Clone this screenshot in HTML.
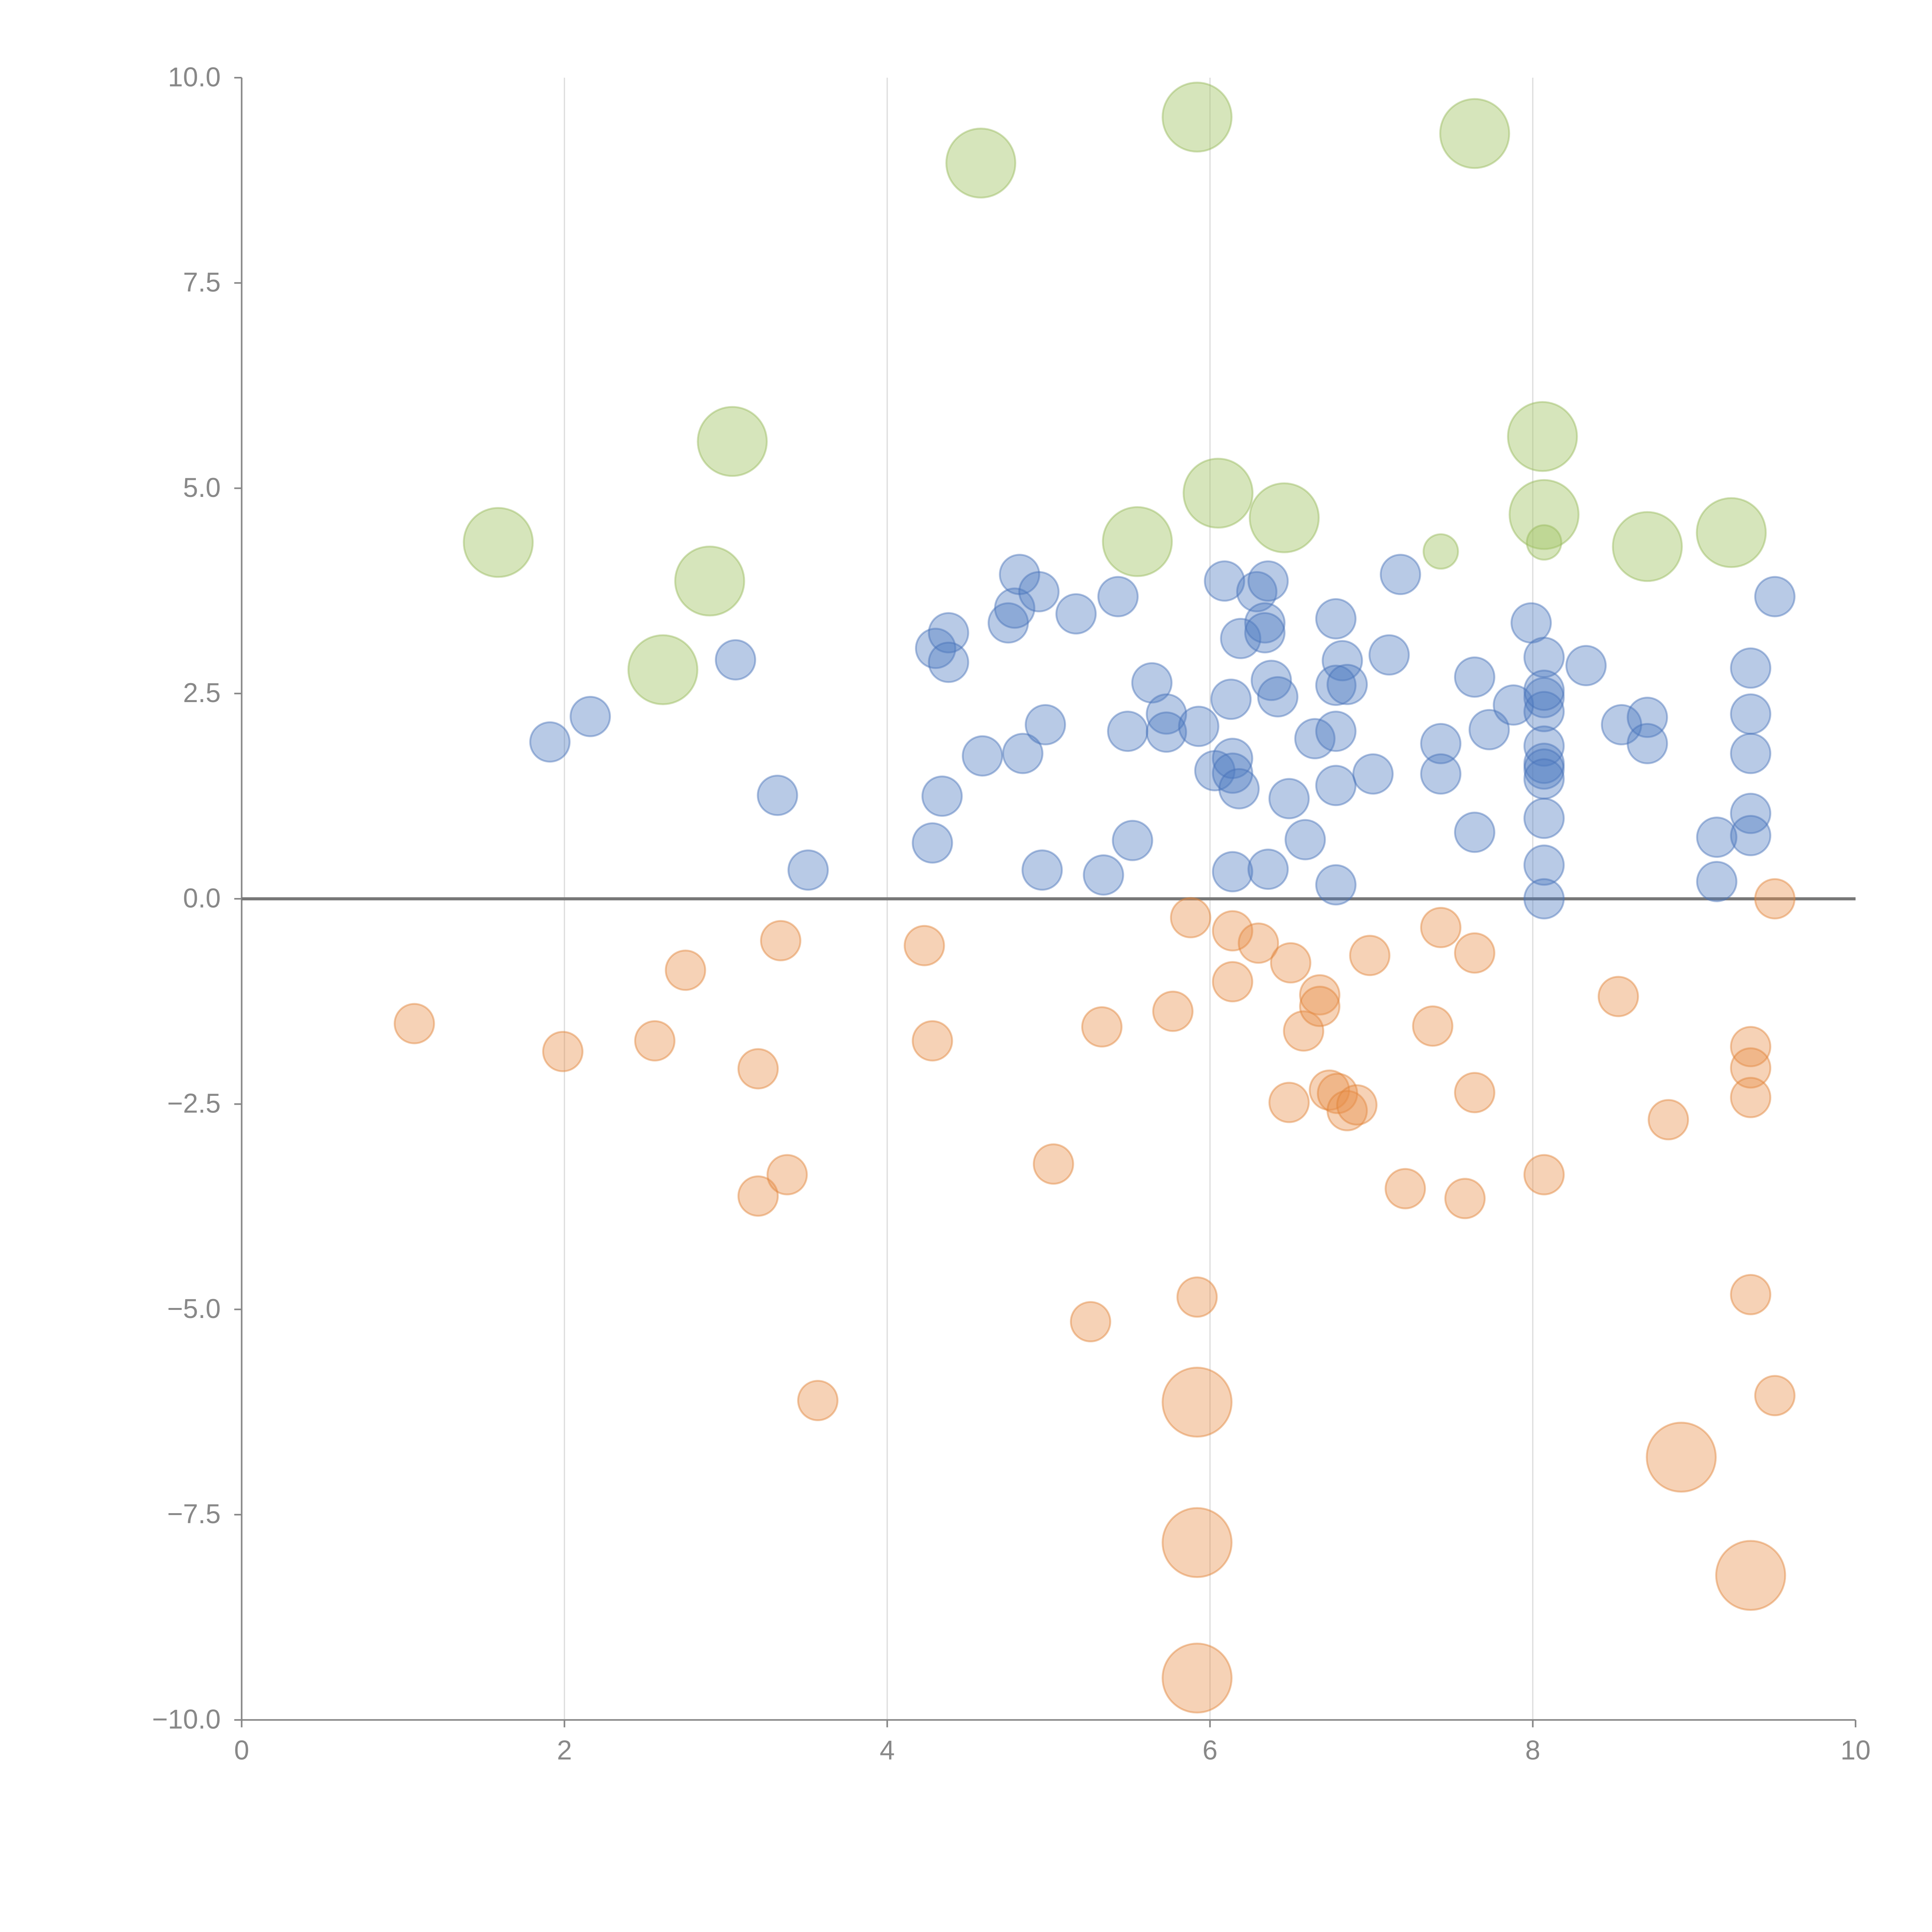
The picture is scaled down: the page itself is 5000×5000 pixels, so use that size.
<!DOCTYPE html>
<html><head><meta charset="utf-8"><style>html,body{margin:0;padding:0;background:#fff}svg{display:block}</style></head>
<body>
<svg id="chart" width="5000" height="5000" viewBox="0 0 1567 1567" xmlns="http://www.w3.org/2000/svg" font-family="'Liberation Sans', sans-serif">
<g id="grid"></g>
<g id="axes"></g>
<g id="marks"></g>
</svg>
<script>
const xTicks=[0,2,4,6,8,10];
const yTicks=[10,7.5,5,2.5,0,-2.5,-5,-7.5,-10];
const yTickLabels=["10.0","7.5","5.0","2.5","0.0","\u22122.5","\u22125.0","\u22127.5","\u221210.0"];
const greenX=[4.58,5.92,7.64,3.04,1.59,2.90,2.61,5.55,6.05,6.46,7.43,8.06,8.07,8.07,8.71,9.23];
const greenY=[8.96,9.52,9.32,5.57,4.34,3.87,2.79,4.35,4.94,4.64,4.23,5.63,4.68,4.34,4.29,4.46];
const greenS=[2,2,2,2,2,2,2,2,2,2,1,2,2,1,2,2];
const orangeX=[1.07,1.99,2.56,2.75,3.20,3.34,3.20,3.38,3.57,4.23,4.28,5.03,5.26,5.33,5.77,5.88,5.92,5.92,5.92,5.92,6.14,6.14,6.30,6.50,6.49,6.58,6.68,6.68,6.74,6.79,6.85,6.91,6.99,7.21,7.38,7.43,7.58,7.64,7.64,8.07,8.53,8.84,8.92,9.35,9.35,9.35,9.35,9.35,9.50,9.50];
const orangeY=[-1.52,-1.86,-1.73,-0.87,-2.07,-0.51,-3.62,-3.36,-6.11,-0.57,-1.73,-3.23,-5.15,-1.56,-1.37,-0.23,-4.85,-6.13,-7.84,-9.49,-0.39,-1.01,-0.54,-0.78,-2.48,-1.61,-1.17,-1.31,-2.33,-2.37,-2.58,-2.51,-0.69,-3.53,-1.55,-0.35,-3.65,-0.66,-2.36,-3.36,-1.19,-2.69,-6.80,-1.80,-2.06,-2.42,-4.82,-8.24,0,-6.05];
const orangeS=[1,1,1,1,1,1,1,1,1,1,1,1,1,1,1,1,1,2,2,2,1,1,1,1,1,1,1,1,1,1,1,1,1,1,1,1,1,1,1,1,1,1,2,1,1,1,1,2,1,1];
const blueX=[1.91,2.16,3.06,3.32,3.51,4.28,4.30,4.38,4.38,4.34,4.59,4.75,4.79,4.82,4.94,4.84,4.98,4.96,5.17,5.34,5.43,5.49,5.52,5.64,5.73,5.73,5.93,6.03,6.09,6.13,6.14,6.14,6.18,6.14,6.19,6.29,6.36,6.34,6.34,6.38,6.42,6.49,6.36,6.59,6.65,6.78,6.82,6.78,6.85,6.78,6.78,6.78,7.01,7.11,7.18,7.43,7.43,7.64,7.64,7.73,7.88,7.99,8.07,8.07,8.07,8.07,8.07,8.07,8.07,8.07,8.07,8.07,8.33,8.55,8.71,8.71,9.14,9.14,9.35,9.35,9.35,9.35,9.35,9.50,8.07];
const blueY=[1.91,2.22,2.91,1.26,0.35,0.68,3.05,3.24,2.88,1.25,1.74,3.36,3.54,3.95,3.74,1.77,2.12,0.35,3.47,0.29,3.68,2.04,0.71,2.63,2.25,2.03,2.10,1.56,3.87,2.43,1.71,1.53,1.34,0.33,3.17,3.74,3.87,3.36,3.24,2.66,2.46,1.22,0.36,0.72,1.95,3.41,2.90,2.60,2.61,2.04,1.38,0.17,1.52,2.97,3.95,1.89,1.52,2.70,0.81,2.06,2.36,3.36,2.94,2.45,2.28,1.86,1.65,1.58,1.46,0.98,0.41,0.00,2.84,2.12,2.21,1.89,0.75,0.21,2.81,2.25,1.77,1.04,0.77,3.68,2.54];

const NS="http://www.w3.org/2000/svg";
const X0=196,X1=1505,YT=63,YB=1395;
const sx=v=>X0+(v-0)/(10-0)*(X1-X0);
const sy=v=>YB-(v+10)/20*(YB-YT);
function mk(tag,attrs,parent){const e=document.createElementNS(NS,tag);for(const k in attrs)e.setAttribute(k,attrs[k]);parent.appendChild(e);return e;}
const grid=document.getElementById('grid'),axes=document.getElementById('axes'),marks=document.getElementById('marks');
xTicks.forEach(t=>{if(t>0&&t<10){const l=mk('line',{x1:sx(t),x2:sx(t),y1:YT,y2:YB,stroke:'#dddddd','stroke-width':1},grid);

}});
let a=mk('line',{x1:X0,x2:X0,y1:YT,y2:YB,stroke:'#888','stroke-width':1.3},axes);


a=mk('line',{x1:X0,x2:X1,y1:YB,y2:YB,stroke:'#888','stroke-width':1.3},axes);


xTicks.forEach(t=>{const tk=mk('line',{x1:sx(t),x2:sx(t),y1:YB,y2:YB+6,stroke:'#888','stroke-width':1.3},axes);


const tx=mk('text',{x:sx(t),y:YB+32,'text-anchor':'middle','font-size':22,fill:'#888'},axes);tx.textContent=String(t);

});
yTicks.forEach((t,i)=>{const tk=mk('line',{x1:X0-6,x2:X0,y1:sy(t),y2:sy(t),stroke:'#888','stroke-width':1.3},axes);


const tx=mk('text',{x:X0-17,y:sy(t)+7,'text-anchor':'end','font-size':22,fill:'#888'},axes);tx.textContent=yTickLabels[i];

});
function series(xs,ys,ss,fill,stroke,name){xs.forEach((x,i)=>{const r=ss[i]===2?28:(name==='green-bubble'?14:16);
const c=mk('circle',{cx:sx(x),cy:sy(ys[i]),r:r,fill:fill,stroke:stroke,'stroke-width':1.5},marks);

});}
series(greenX,greenY,greenS,'rgba(165,198,105,0.45)','rgba(150,185,90,0.45)','green-bubble');
series(orangeX,orangeY,orangeS,'rgba(232,142,72,0.4)','rgba(225,130,55,0.45)','orange-bubble');
series(blueX,blueY,blueX.map(()=>1),'rgba(78,122,192,0.4)','rgba(70,112,185,0.45)','blue-bubble');
const z=mk('line',{x1:X0,x2:X1,y1:sy(0),y2:sy(0),stroke:'#777','stroke-width':2.5},axes);


</script>
</body></html>
